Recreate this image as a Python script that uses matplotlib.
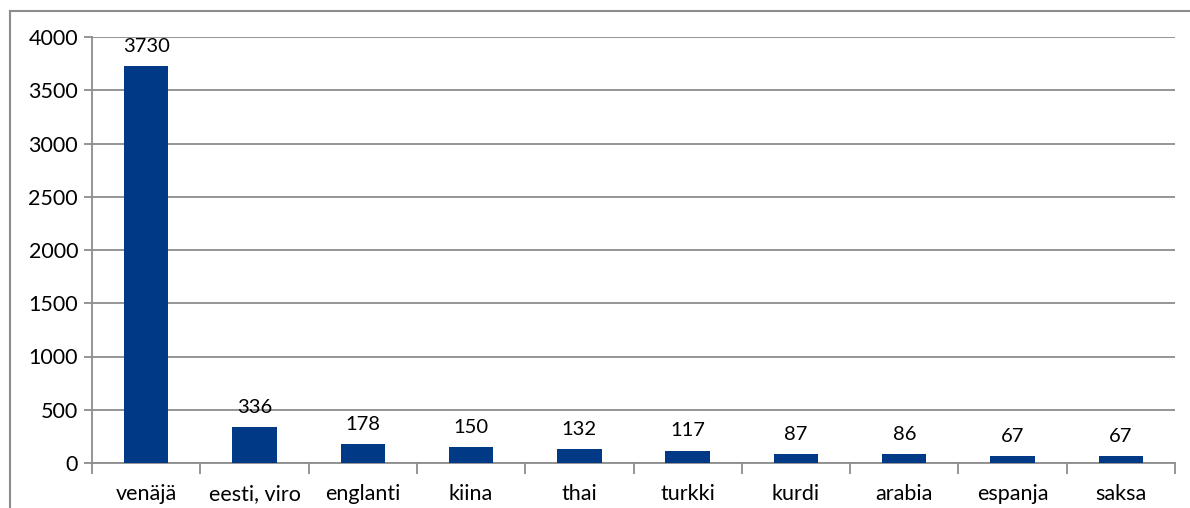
import matplotlib.pyplot as plt
from matplotlib.lines import Line2D

languages = ["venäjä", "eesti, viro", "englanti", "kiina", "thai",
             "turkki", "kurdi", "arabia", "espanja", "saksa"]
speakers = [3730, 336, 178, 150, 132, 117, 87, 86, 67, 67]
y_ticks = [0, 500, 1000, 1500, 2000, 2500, 3000, 3500, 4000]

plt.rcParams['font.family'] = ['Lato', 'DejaVu Sans']

grid_col = "#8c8c8c"
bar_col = "#003A86"

fig = plt.figure(figsize=(11.9, 5.08), dpi=100)
ax = fig.add_axes([92 / 1190, 45 / 508, (1175 - 92) / 1190, (463 - 37) / 508])

x = list(range(len(languages)))
ax.bar(x, speakers, width=0.41, color=bar_col, zorder=3)

#value labels above every bar
for xi, v in zip(x, speakers):
    ax.annotate(str(v), (xi, v), xytext=(0, 8), textcoords="offset points",
                ha="center", va="bottom", fontsize=14.5, color="black")

ax.set_xlim(-0.5, len(languages) - 0.5)
ax.set_ylim(0, 4000)
ax.set_yticks(y_ticks)
ax.set_yticklabels([str(t) for t in y_ticks], fontsize=15.5)
ax.yaxis.grid(True, color=grid_col, linewidth=1.3, zorder=0)
ax.tick_params(axis="y", length=6, width=1.3, color=grid_col, pad=4)

#category labels in the middle, ticks on the boundaries
ax.set_xticks(x)
ax.set_xticklabels(languages, fontsize=15.5)
ax.tick_params(axis="x", which="major", length=0, pad=15)
ax.set_xticks([i - 0.5 for i in range(len(languages) + 1)], minor=True)
ax.tick_params(axis="x", which="minor", length=8, width=1.3, color=grid_col)

for side in ["top", "right"]:
    ax.spines[side].set_visible(False)
for side in ["left", "bottom"]:
    ax.spines[side].set_color(grid_col)
    ax.spines[side].set_linewidth(1.3)

#outer chart border (only left and top sides visible)
fig.add_artist(Line2D([10 / 1190, 10 / 1190], [0, 1 - 11 / 508],
                      color=grid_col, linewidth=1.5, transform=fig.transFigure))
fig.add_artist(Line2D([10 / 1190, 1], [1 - 11 / 508, 1 - 11 / 508],
                      color=grid_col, linewidth=1.5, transform=fig.transFigure))

fig.savefig("out.png", dpi=100)
